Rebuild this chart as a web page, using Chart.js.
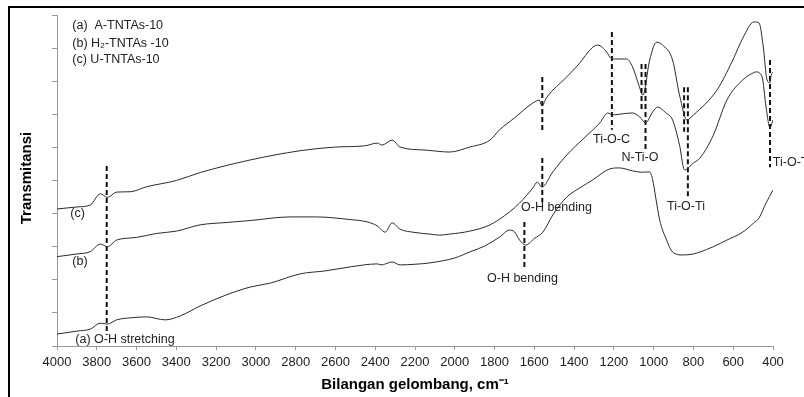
<!DOCTYPE html>
<html>
<head>
<meta charset="utf-8">
<script src="https://cdn.jsdelivr.net/npm/chart.js@4.4.1/dist/chart.umd.min.js"></script>
<style>
  html, body { margin: 0; padding: 0; background: #fff; }
  #wrap { position: relative; width: 804px; height: 397px; overflow: hidden; }
  #frame {
    position: absolute; left: 8px; top: 6px; right: -4px; bottom: -4px;
    border-top: 2px solid #000; border-left: 2px solid #000;
  }
  canvas { position: absolute; left: 0; top: 0; }
</style>
</head>
<body>
<div id="wrap">
  <div id="frame"></div>
  <canvas id="ftir" width="804" height="397"></canvas>
</div>
<script>
// spectrum (a) A-TNTAs-10
const waveA = [4000, 3900, 3833, 3782, 3747, 3700, 3632, 3550, 3456, 3380, 3280, 3150, 3029, 2928, 2777, 2650, 2526, 2390, 2366, 2340, 2315, 2275, 2200, 2126, 2000, 1925, 1850, 1775, 1725, 1700, 1674, 1643, 1600, 1557, 1507, 1437, 1370, 1306, 1221, 1171, 1106, 1060, 1020, 1005, 990, 970, 935, 905, 855, 800, 767, 700, 632, 552, 500, 470, 435, 400];
const transA = [0.36, 0.45, 0.51, 0.69, 0.66, 0.79, 0.85, 0.88, 0.79, 0.91, 1.21, 1.54, 1.78, 1.90, 2.18, 2.27, 2.39, 2.48, 2.45, 2.50, 2.54, 2.45, 2.47, 2.51, 2.66, 2.84, 3.02, 3.29, 3.50, 3.45, 3.20, 3.05, 3.25, 3.44, 3.96, 4.50, 4.78, 5.02, 5.35, 5.38, 5.29, 5.25, 5.26, 5.02, 4.50, 3.81, 3.20, 2.84, 2.75, 2.78, 2.84, 3.00, 3.20, 3.44, 3.70, 3.87, 4.32, 4.71];

// spectrum (b) H2-TNTAs-10
const waveB = [4000, 3900, 3833, 3782, 3747, 3700, 3600, 3500, 3400, 3280, 3150, 3029, 2828, 2700, 2526, 2441, 2390, 2350, 2315, 2275, 2200, 2126, 2076, 2026, 1925, 1823, 1725, 1674, 1608, 1585, 1562, 1507, 1437, 1350, 1271, 1231, 1206, 1150, 1106, 1070, 1041, 1005, 980, 940, 905, 870, 845, 800, 767, 700, 632, 552, 500, 485, 455, 435, 415, 400];
const transB = [2.70, 2.78, 2.85, 3.08, 3.00, 3.20, 3.28, 3.40, 3.47, 3.66, 3.73, 3.79, 3.90, 3.90, 3.82, 3.75, 3.63, 3.44, 3.72, 3.53, 3.43, 3.38, 3.35, 3.38, 3.47, 3.66, 4.05, 4.32, 4.77, 4.95, 4.80, 5.26, 5.77, 6.28, 6.74, 7.04, 6.98, 7.02, 7.04, 6.92, 6.74, 7.07, 7.22, 7.05, 6.83, 6.07, 5.32, 5.53, 5.68, 6.37, 7.43, 8.04, 8.25, 8.28, 8.13, 7.22, 6.59, 6.83];

// spectrum (c) U-TNTAs-10
const waveC = [4000, 3900, 3833, 3782, 3747, 3700, 3632, 3550, 3400, 3280, 3029, 2777, 2600, 2450, 2390, 2366, 2315, 2275, 2150, 2026, 1925, 1823, 1775, 1700, 1608, 1575, 1562, 1540, 1437, 1380, 1306, 1281, 1236, 1216, 1190, 1136, 1106, 1075, 1054, 1020, 985, 955, 905, 870, 833, 800, 682, 602, 552, 496, 470, 450, 430, 415, 410, 400];
const transC = [4.14, 4.20, 4.26, 4.60, 4.49, 4.65, 4.66, 4.81, 5.00, 5.24, 5.62, 5.90, 6.01, 6.05, 6.13, 6.07, 6.22, 6.01, 5.92, 5.86, 6.01, 6.22, 6.53, 6.89, 7.34, 7.43, 7.25, 7.49, 8.13, 8.49, 9.03, 9.09, 8.88, 8.70, 8.67, 8.67, 8.43, 7.89, 7.58, 8.64, 9.18, 9.09, 8.64, 7.58, 6.83, 6.98, 7.73, 8.64, 9.30, 9.79, 9.76, 9.09, 8.04, 7.95, 8.16, 8.28];

// dashed band markers: wavenumber, top and bottom level
const markWave = [3750, 1560, 1560, 1650, 1210, 1061, 1041, 847, 828, 415];
const markTop = [5.44, 8.13, 5.68, 3.75, 9.49, 8.52, 8.52, 7.82, 7.82, 8.64];
const markBottom = [0.33, 6.47, 4.35, 2.36, 6.53, 7.10, 5.92, 6.47, 4.50, 5.40];

// annotation texts and where they sit (wavenumber of left edge, level)
const noteText = ['(a)  A-TNTAs-10', '(b) H\u2082-TNTAs -10', '(c) U-TNTAs-10', '(c)', '(b)', '(a) O-H stretching',
  'O-H bending', 'O-H bending', 'Ti-O-C', 'N-Ti-O', 'Ti-O-Ti', 'Ti-O-Ti'];
const noteWave = [3923, 3923, 3923, 3933, 3923, 3908, 1667, 1838, 1305, 1162, 933, 401];
const noteLevel = [9.67, 9.15, 8.64, 3.99, 2.54, 0.21, 4.17, 2.05, 6.25, 5.68, 4.20, 5.53];

const xTicks = [4000, 3800, 3600, 3400, 3200, 3000, 2800, 2600, 2400, 2200, 2000, 1800, 1600, 1400, 1200, 1000, 800, 600, 400];

const toPoints = (xs, ys) => xs.map((x, i) => ({ x: x, y: ys[i] }));

const datasets = [
  { label: 'A-TNTAs-10', data: toPoints(waveA, transA) },
  { label: 'H2-TNTAs-10', data: toPoints(waveB, transB) },
  { label: 'U-TNTAs-10', data: toPoints(waveC, transC) }
].map(d => Object.assign(d, {
  borderColor: '#2a2a2a', borderWidth: 1, pointRadius: 0,
  cubicInterpolationMode: 'monotone', fill: false
}));

markWave.forEach((w, i) => {
  datasets.push({
    label: 'mark' + i,
    data: [{ x: w, y: markTop[i] }, { x: w, y: markBottom[i] }],
    borderColor: '#111', borderWidth: 2, borderDash: [5, 3],
    pointRadius: 0, fill: false
  });
});

const textPlugin = {
  id: 'texts',
  afterDraw(chart) {
    const { ctx, scales } = chart;
    ctx.save();
    ctx.fillStyle = '#222';
    ctx.font = '12.5px Arial, "Liberation Sans", sans-serif';
    ctx.textBaseline = 'middle';
    ctx.textAlign = 'left';
    noteText.forEach((t, i) => {
      ctx.fillText(t, scales.x.getPixelForValue(noteWave[i]), scales.y.getPixelForValue(noteLevel[i]));
    });

    // axis titles
    ctx.fillStyle = '#000';
    ctx.font = 'bold 15px Arial, "Liberation Sans", sans-serif';
    ctx.textAlign = 'center';
    const area = chart.chartArea;
    ctx.fillText('Bilangan gelombang, cm\u207B\u00B9', (area.left + area.right) / 2, 385);
    ctx.translate(27, 178);
    ctx.rotate(-Math.PI / 2);
    ctx.fillText('Transmitansi', 0, 0);
    ctx.restore();
  }
};

new Chart(document.getElementById('ftir'), {
  type: 'line',
  data: { datasets: datasets },
  options: {
    responsive: false,
    animation: false,
    layout: { padding: { left: 0, right: 31, top: 15, bottom: 0 } },
    plugins: { legend: { display: false }, tooltip: { enabled: false } },
    scales: {
      x: {
        type: 'linear',
        reverse: true,
        min: 400,
        max: 4000,
        afterBuildTicks: s => { s.ticks = xTicks.map(v => ({ value: v })); },
        afterFit: s => { s.height = 51; },
        border: { color: '#999', width: 1 },
        grid: { drawOnChartArea: false, color: '#999', tickLength: 4 },
        ticks: {
          autoSkip: false, maxRotation: 0, padding: 5, color: '#222',
          callback: v => String(v),
          font: { family: 'Arial, "Liberation Sans", sans-serif', size: 13 }
        }
      },
      y: {
        min: 0,
        max: 10,
        afterFit: s => { s.width = 57; },
        border: { color: '#999', width: 1 },
        grid: { drawOnChartArea: false, color: '#999', tickLength: 5 },
        ticks: { stepSize: 1, callback: () => '' }
      }
    }
  },
  plugins: [textPlugin]
});
</script>
</body>
</html>
